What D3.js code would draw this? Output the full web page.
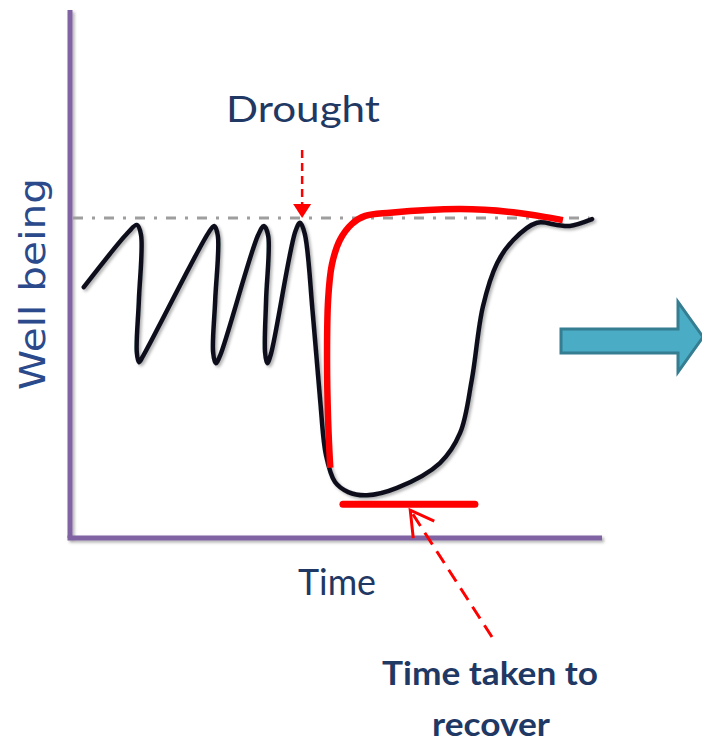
<!DOCTYPE html>
<html>
<head>
<meta charset="utf-8">
<script src="https://cdn.jsdelivr.net/npm/d3@7"></script>
<style>
  body { margin: 0; background: #fff; }
  svg { display: block; }
</style>
</head>
<body>
<script>
// #Data (time 0-100, well being 0-100)
const wellTime  = [2.6, 10.9, 12.6, 13.4, 13.0, 12.6, 13.0, 13.8,
                   26.0, 27.2, 27.9, 27.4, 27.0, 27.5, 28.3,
                   35.5, 36.6, 37.4, 37.0, 36.8, 37.2, 37.9,
                   42.5, 43.4, 44.3, 45.8, 47.2, 48.3, 50.0, 52.5, 56.0, 61.7,
                   69.8, 73.6, 75.8, 77.9, 80.6, 83.6, 88.1, 91.9, 94.3, 98.5];
const wellValue = [47.5, 57.8, 59.3, 57.4, 45.1, 35.2, 33.3, 34.5,
                   57.6, 59.1, 57.2, 45.1, 35.2, 33.1, 34.5,
                   57.4, 59.1, 57.2, 45.1, 35.2, 33.1, 34.8,
                   58.0, 59.7, 57.6, 42.6, 26.1, 15.7, 10.6, 8.7, 8.1, 9.5,
                   14.2, 19.9, 29.9, 43.8, 52.1, 56.4, 59.7, 59.3, 59.1, 60.4];

const fastTime  = [49.1, 48.7, 48.5, 48.7, 49.4, 50.9, 53.2, 55.7, 60.4, 73.6, 83.6, 93.0];
const fastValue = [13.3, 22.3, 33.7, 45.1, 51.7, 56.4, 59.5, 61.0, 61.6, 62.3, 61.7, 60.2];

const baselineLevel = 60.6;
const droughtTime = 43.8;
const recoverySpan = [51.5, 76.4];
const recoveryLevel = 6.4;
const recoveryPointer = 64.2;

// #Define SVG
const width = 702, height = 743;
const svg = d3.select('body')
              .append('svg')
              .attr('width', width)
              .attr('height', height);

const defs = svg.append('defs');
defs.append('filter')
    .attr('id', 'shadow')
    .attr('filterUnits', 'userSpaceOnUse')
    .attr('x', 0).attr('y', 0).attr('width', width).attr('height', height)
    .append('feDropShadow')
    .attr('dx', 2).attr('dy', 2).attr('stdDeviation', 1.5)
    .attr('flood-color', '#000').attr('flood-opacity', 0.3);

// #Scales
const x = d3.scaleLinear().domain([0, 100]).range([70, 600]);
const y = d3.scaleLinear().domain([0, 100]).range([538, 10]);

// #Axes
const axisColor = '#8064A2';
svg.append('line')
   .attr('x1', x(0)).attr('x2', x(0))
   .attr('y1', y(100)).attr('y2', y(0))
   .attr('stroke', axisColor).attr('stroke-width', 5)
   .attr('filter', 'url(#shadow)');
svg.append('line')
   .attr('x1', x(0) - 2.5).attr('x2', x(100) + 2)
   .attr('y1', y(0)).attr('y2', y(0))
   .attr('stroke', axisColor).attr('stroke-width', 5)
   .attr('filter', 'url(#shadow)');

// #Baseline (dash-dot)
svg.append('line')
   .attr('x1', x(0) + 3).attr('x2', x(98))
   .attr('y1', y(baselineLevel)).attr('y2', y(baselineLevel))
   .attr('stroke', '#9E9E9E').attr('stroke-width', 3)
   .attr('stroke-dasharray', '10,9,3,9');

// #Curves
const line = d3.line()
               .x(d => x(d[0]))
               .y(d => y(d[1]))
               .curve(d3.curveCatmullRom.alpha(0.5));

svg.append('path')
   .datum(d3.zip(wellTime, wellValue))
   .attr('d', line)
   .attr('fill', 'none')
   .attr('stroke', '#0B111C')
   .attr('stroke-width', 4.5)
   .attr('stroke-linecap', 'round')
   .attr('stroke-linejoin', 'round')
   .attr('filter', 'url(#shadow)');

svg.append('path')
   .datum(d3.zip(fastTime, fastValue))
   .attr('d', line)
   .attr('fill', 'none')
   .attr('stroke', '#FF0000')
   .attr('stroke-width', 6.5);

// #Recovery bar
svg.append('line')
   .attr('x1', x(recoverySpan[0])).attr('x2', x(recoverySpan[1]))
   .attr('y1', y(recoveryLevel)).attr('y2', y(recoveryLevel))
   .attr('stroke', '#FF0000').attr('stroke-width', 7)
   .attr('stroke-linecap', 'round');

// #Drought arrow
const dx = x(droughtTime), dy = y(baselineLevel);
svg.append('line')
   .attr('x1', dx).attr('x2', dx)
   .attr('y1', dy - 68).attr('y2', dy - 12)
   .attr('stroke', '#FF0000').attr('stroke-width', 2.5)
   .attr('stroke-dasharray', '8,5');
svg.append('path')
   .attr('d', `M${dx - 9},${dy - 14}L${dx + 9},${dy - 14}L${dx},${dy}Z`)
   .attr('fill', '#FF0000');

// #Recovery pointer arrow
const tipX = x(recoveryPointer), tipY = y(recoveryLevel) + 6;
const tailX = 492, tailY = 637;
svg.append('line')
   .attr('x1', tailX).attr('y1', tailY)
   .attr('x2', tipX).attr('y2', tipY)
   .attr('stroke', '#FF0000').attr('stroke-width', 3)
   .attr('stroke-dasharray', '14,8');
svg.append('path')
   .attr('d', `M${tipX + 24},${tipY + 11}L${tipX},${tipY}L${tipX + 3},${tipY + 28}`)
   .attr('fill', 'none')
   .attr('stroke', '#FF0000').attr('stroke-width', 3);

// #Blue arrow
svg.append('path')
   .attr('d', 'M561,329L678,329L678,302L703,337L678,372L678,353L561,353Z')
   .attr('fill', '#4BACC6')
   .attr('stroke', '#357D91')
   .attr('stroke-width', 3)
   .attr('stroke-linejoin', 'miter');

// #Texts
const textColor = '#1F3864';
const addText = (cx, by, str, size, len, weight) =>
    svg.append('text')
       .attr('x', cx).attr('y', by)
       .attr('text-anchor', 'middle')
       .attr('textLength', len)
       .attr('lengthAdjust', 'spacingAndGlyphs')
       .style('font-family', 'Lato, "Open Sans", sans-serif')
       .style('font-size', size + 'px')
       .style('font-weight', weight || 'normal')
       .attr('fill', textColor)
       .text(str);

addText(303, 122, 'Drought', 37, 154);
addText(337, 595, 'Time', 37, 78);
addText(490, 685, 'Time taken to', 32, 216, 'bold');
addText(491, 736, 'recover', 32, 118, 'bold');

svg.append('text')
   .attr('transform', 'translate(45,284) rotate(-90)')
   .attr('text-anchor', 'middle')
   .attr('textLength', 212)
   .attr('lengthAdjust', 'spacingAndGlyphs')
   .style('font-family', '"DejaVu Sans", sans-serif')
   .style('font-size', '36px')
   .attr('fill', '#2B4A8B')
   .text('Well being');
</script>
</body>
</html>
